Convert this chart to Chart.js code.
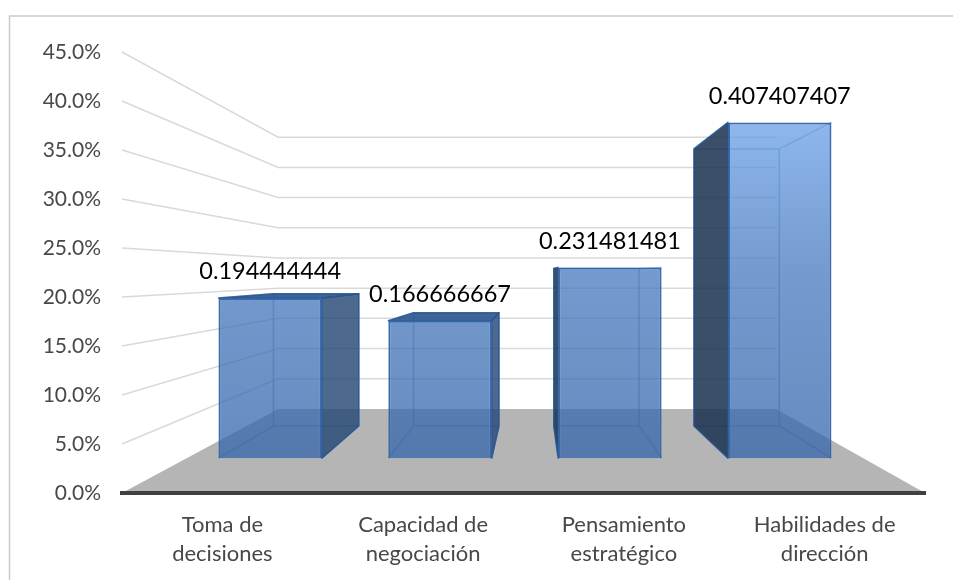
<!DOCTYPE html>
<html>
<head>
<meta charset="utf-8">
<title>Competencias</title>
<script src="https://cdn.jsdelivr.net/npm/chart.js@4/dist/chart.umd.js"></script>
<style>
    html, body { margin: 0; padding: 0; background: #fff; }
    canvas { display: block; }
</style>
</head>
<body>
<canvas id="bar-chart" width="953" height="580"></canvas>
<script>
const categories = [
    ['Toma de', 'decisiones'],
    ['Capacidad de', 'negociación'],
    ['Pensamiento', 'estratégico'],
    ['Habilidades de', 'dirección']
];
const shares = [0.194444444, 0.166666667, 0.231481481, 0.407407407];
const axisMax = 0.45;
const axisStep = 0.05;

// Perspective: everything shrinks towards this point as it moves back
const vanish = { x: 533, y: 274 };
const widthStretch = 1.006; // horizontal shrink is a touch weaker than vertical
const wallDepth = 0.6163;   // back wall
const frontDepth = 0.841;   // front face of a bar
const rearDepth = 0.694;    // rear face of a bar

function project(x, y, depth) {
    return [
        vanish.x + (x - vanish.x) * depth * widthStretch,
        vanish.y + (y - vanish.y) * depth
    ];
}

function tracePoly(ctx, points) {
    ctx.beginPath();
    points.forEach((p, i) => i ? ctx.lineTo(p[0], p[1]) : ctx.moveTo(p[0], p[1]));
    ctx.closePath();
}

function fillPoly(ctx, points, fill) {
    tracePoly(ctx, points);
    ctx.fillStyle = fill;
    ctx.fill();
}

function strokeLine(ctx, a, b) {
    ctx.beginPath();
    ctx.moveTo(a[0], a[1]);
    ctx.lineTo(b[0], b[1]);
    ctx.stroke();
}

const scene3d = {
    id: 'scene3d',
    beforeDraw(chart) {
        // frame on the left and top only
        const ctx = chart.ctx;
        ctx.save();
        ctx.strokeStyle = '#c9c9c9';
        ctx.lineWidth = 1.5;
        ctx.beginPath();
        ctx.moveTo(9.5, 580);
        ctx.lineTo(9.5, 16);
        ctx.lineTo(953, 16);
        ctx.stroke();
        ctx.restore();
    },
    beforeDatasetsDraw(chart) {
        const ctx = chart.ctx;
        const { left, right, bottom } = chart.chartArea;
        const yScale = chart.scales.y;

        ctx.save();
        ctx.strokeStyle = '#d9d9d9';
        ctx.lineWidth = 1.5;
        yScale.ticks.forEach(tick => {
            if (tick.value === 0) return;
            const y = yScale.getPixelForValue(tick.value);
            const a = project(left, y, wallDepth);
            const b = project(right, y, wallDepth);
            ctx.beginPath();
            ctx.moveTo(left, y);
            ctx.lineTo(a[0], a[1]);
            ctx.lineTo(b[0], b[1]);
            ctx.stroke();
        });

        // floor
        fillPoly(ctx, [
            [left, bottom],
            [right, bottom],
            project(right, bottom, wallDepth),
            project(left, bottom, wallDepth)
        ], '#b5b5b5');
        ctx.restore();
    },
    beforeDatasetDraw(chart, args) {
        const ctx = chart.ctx;
        ctx.save();
        ctx.lineJoin = 'round';

        args.meta.data.forEach(bar => {
            const x0 = bar.x - bar.width / 2;
            const x1 = bar.x + bar.width / 2;
            const fTL = project(x0, bar.y, frontDepth);
            const fTR = project(x1, bar.y, frontDepth);
            const fBL = project(x0, bar.base, frontDepth);
            const fBR = project(x1, bar.base, frontDepth);
            const rTL = project(x0, bar.y, rearDepth);
            const rTR = project(x1, bar.y, rearDepth);
            const rBL = project(x0, bar.base, rearDepth);
            const rBR = project(x1, bar.base, rearDepth);

            // rear edges, seen through the translucent front
            ctx.strokeStyle = 'rgba(55,110,180,0.45)';
            ctx.lineWidth = 1.5;
            strokeLine(ctx, rTL, rTR);
            strokeLine(ctx, rTR, rBR);
            strokeLine(ctx, rBR, rBL);
            strokeLine(ctx, rBL, rTL);
            strokeLine(ctx, rTL, fTL);
            strokeLine(ctx, rTR, fTR);
            strokeLine(ctx, rBL, fBL);
            strokeLine(ctx, rBR, fBR);

            ctx.strokeStyle = 'rgba(40,85,145,0.8)';
            // side that sticks out past the front face
            if (rTR[0] > fTR[0]) {
                fillPoly(ctx, [fTR, rTR, rBR, fBR], 'rgba(38,72,116,0.82)');
                ctx.stroke();
            }
            if (rTL[0] < fTL[0]) {
                fillPoly(ctx, [fTL, rTL, rBL, fBL], 'rgba(28,50,80,0.86)');
                ctx.stroke();
            }
            // lid, only seen when the bar ends below eye level
            if (rTL[1] < fTL[1]) {
                fillPoly(ctx, [fTL, rTL, rTR, fTR], 'rgba(44,88,144,0.92)');
                ctx.stroke();
            }
        });
        ctx.restore();

        // bars are drawn by the library, pushed onto the front plane
        ctx.save();
        ctx.translate(vanish.x, vanish.y);
        ctx.scale(frontDepth * widthStretch, frontDepth);
        ctx.translate(-vanish.x, -vanish.y);
    },
    afterDatasetDraw(chart) {
        chart.ctx.restore();
    },
    afterDatasetsDraw(chart) {
        const ctx = chart.ctx;
        const meta = chart.getDatasetMeta(0);
        ctx.save();
        ctx.font = '23.5px Lato';
        ctx.fillStyle = '#000';
        ctx.textAlign = 'center';
        ctx.textBaseline = 'middle';
        meta.data.forEach((bar, i) => {
            const top = project(bar.x, bar.y, frontDepth);
            ctx.fillText(String(shares[i]), top[0], top[1] - 26);
        });
        ctx.restore();
    }
};

const ctx = document.getElementById('bar-chart').getContext('2d');

function barFill(context) {
    const area = context.chart.chartArea;
    if (!area) return 'rgba(70,120,190,0.75)';
    const g = context.chart.ctx.createLinearGradient(0, area.top + 40, 0, area.bottom);
    g.addColorStop(0, 'rgba(103,159,232,0.75)');
    g.addColorStop(0.45, 'rgba(70,120,190,0.75)');
    g.addColorStop(1, 'rgba(50,100,170,0.75)');
    return g;
}

new Chart(ctx, {
    type: 'bar',
    data: {
        labels: categories,
        datasets: [{
            data: shares,
            backgroundColor: barFill,
            borderColor: 'rgba(47,98,165,0.95)',
            borderWidth: 2.4,
            barPercentage: 0.609,
            categoryPercentage: 1,
            clip: false
        }]
    },
    options: {
        responsive: false,
        animation: false,
        layout: { padding: { top: 52, right: 28 } },
        plugins: { legend: { display: false }, tooltip: { enabled: false } },
        scales: {
            x: {
                grid: { display: false, drawTicks: false },
                border: { color: '#404040', width: 4, z: 1 },
                ticks: {
                    color: '#484848',
                    font: { family: 'Lato', size: 22, lineHeight: 1.32 },
                    padding: 17,
                    maxRotation: 0,
                    autoSkip: false
                },
                afterFit(scale) { scale.height = 87; }
            },
            y: {
                min: 0,
                max: axisMax,
                grid: { display: false, drawTicks: false },
                border: { display: false },
                ticks: {
                    stepSize: axisStep,
                    color: '#484848',
                    font: { family: 'Lato', size: 21 },
                    padding: 21,
                    callback: value => (value * 100).toFixed(1) + '%'
                },
                afterFit(scale) { scale.width = 122; }
            }
        }
    },
    plugins: [scene3d]
});
</script>
</body>
</html>
